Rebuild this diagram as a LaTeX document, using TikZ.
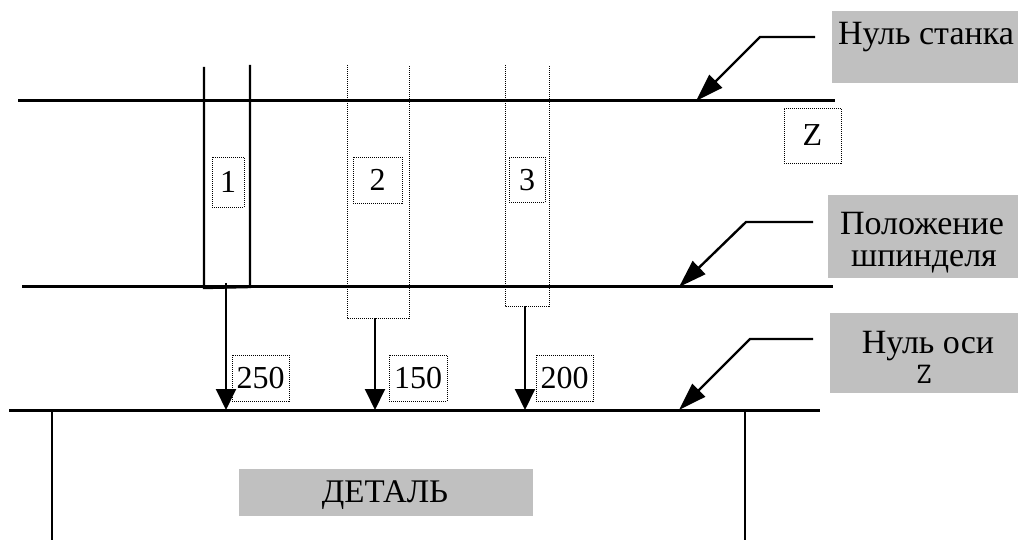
\documentclass[tikz,border=0pt]{standalone}
\usepackage{fontspec}
\setmainfont{Liberation Serif}
\usetikzlibrary{arrows.meta}
\definecolor{boxgray}{RGB}{192,192,192}
\begin{document}
\begin{tikzpicture}[x=1pt,y=-1pt,
  mainline/.style={line width=3pt},
  toolline/.style={line width=2.4pt},
  dotline/.style={line width=0.8pt, dash pattern=on 1pt off 1pt},
  dimarrow/.style={line width=2pt, -{Triangle[length=21pt,width=20pt]}},
  leader/.style={line width=2.4pt, -{Triangle[length=28pt,width=18pt]}},
  lbl/.style={draw, dotline, inner sep=0pt, font=\fontsize{32}{36}\selectfont},
  graybox/.style={fill=boxgray, draw=none, inner sep=0pt, anchor=north west},
  gtext/.style={font=\fontsize{34}{38}\selectfont, anchor=base, inner sep=0pt},
]
\useasboundingbox (0,0) rectangle (1018,540);

% horizontal reference lines
\coordinate (L1a) at (18,101);  \coordinate (L1b) at (835,101);
\coordinate (L2a) at (22,287);  \coordinate (L2b) at (833,287);
\coordinate (L3a) at (9,410);   \coordinate (L3b) at (820,410);
\draw[mainline] (L1a) -- (L1b);
\draw[mainline] (L2a) -- (L2b);
\draw[mainline] (L3a) -- (L3b);

% part (detail)
\coordinate (D1) at (52,410); \coordinate (D2) at (745,410);
\draw[toolline] (D1) -- ++(0,135);
\draw[toolline] (D2) -- ++(0,135);
\node[graybox, minimum width=294, minimum height=47] (detbox) at (239,469) {};
\node[gtext, font=\fontsize{33}{37}\selectfont] (det) at (385,502) {ДЕТАЛЬ};

% tool 1 (solid)
\draw[toolline] (204,67) -- (204,288) -- (250,287) -- (250,65);
\coordinate (t1) at (226,283);
% tool 2 (dotted)
\draw[dotline] (347,65) -- (347,318) -- (409,318) -- (409,65);
\coordinate (t2) at (375,318);
% tool 3 (dotted)
\draw[dotline] (505,65) -- (505,306) -- (549,306) -- (549,65);
\coordinate (t3) at (525,306);

% tool numbers
\node[lbl, minimum width=32, minimum height=50] (n1) at (228,182) {1};
\node[lbl, minimum width=49, minimum height=46] (n2) at (377.5,180) {2};
\node[lbl, minimum width=36, minimum height=45] (n3) at (527,180) {3};

% length arrows
\draw[dimarrow] (t1) -- (t1 |- L3a);
\draw[dimarrow] (t2) -- (t2 |- L3a);
\draw[dimarrow] (t3) -- (t3 |- L3a);
\node[lbl, minimum width=57, minimum height=46] (d1) at (260.5,378) {250};
\node[lbl, minimum width=58, minimum height=46] (d2) at (418,378) {150};
\node[lbl, minimum width=57, minimum height=46] (d3) at (564.5,378) {200};

% Z label
\node[lbl, minimum width=57, minimum height=55] (z) at (812.5,135.5) {Z};

% callout: machine zero
\node[graybox, minimum width=186, minimum height=72] (b1) at (832,11) {};
\node[gtext] (b1t) at (926,45) {Нуль станка};
\coordinate (c1s) at (815,37); \coordinate (c1k) at (760,37); \coordinate (c1e) at (696,101);
\draw[leader] (c1s) -- (c1k) -- (c1e);

% callout: spindle position
\node[graybox, minimum width=190, minimum height=83] (b2) at (828,195) {};
\node[gtext] (b2t) at (922,235) {Положение};
\node[gtext] (b2u) at (924,267) {шпинделя};
\coordinate (c2s) at (813,222); \coordinate (c2k) at (746,222); \coordinate (c2e) at (679,287);
\draw[leader] (c2s) -- (c2k) -- (c2e);

% callout: axis zero
\node[graybox, minimum width=188, minimum height=80] (b3) at (830,313) {};
\node[gtext] (b3t) at (928,353) {Нуль оси};
\node[gtext, font=\fontsize{30}{34}\ttfamily] (b3u) at (924,383) {Z};
\coordinate (c3s) at (813,339); \coordinate (c3k) at (750,339); \coordinate (c3e) at (679,410);
\draw[leader] (c3s) -- (c3k) -- (c3e);
\end{tikzpicture}
\end{document}
